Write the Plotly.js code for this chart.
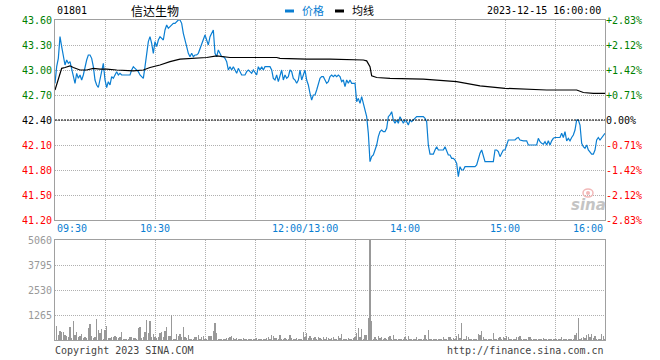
<!DOCTYPE html>
<html><head><meta charset="utf-8">
<script src="https://cdn.plot.ly/plotly-3.0.1.min.js"></script>
<style>html,body{margin:0;padding:0;background:#fff}#chart{width:660px;height:360px}</style>
</head><body><div id="chart"></div>
<script>
const stockCode = "01801";
const stockName = "信达生物";
const stamp = "2023-12-15 16:00:00";
const legendPrice = "价格";
const legendAvg = "均线";
const copyrightText = "Copyright 2023 SINA.COM";
const urlText = "http://finance.sina.com.cn";
const prevClose = 42.40;
const priceTicks = [41.20,41.50,41.80,42.10,42.40,42.70,43.00,43.30,43.60];
const pctLabels = ["-2.83%","-2.12%","-1.42%","-0.71%","0.00%","+0.71%","+1.42%","+2.12%","+2.83%"];
const volTicks = [1265,2530,3795,5060];
const timeLabels = ["09:30","10:30","12:00/13:00","14:00","15:00","16:00"];
const timeMinutes = [0,60,150,210,270,330];

// price per trading minute (0 = 09:30 ... 150 = 12:00/13:00 ... 330 = 16:00)
const price = [
42.84,43.04,43.14,43.40,43.28,43.14,43.06,43.12,43.08,43.10,
43.00,42.90,42.84,42.96,42.90,42.94,42.88,42.94,43.04,43.12,
43.18,43.18,43.14,43.04,42.88,42.82,42.79,42.90,43.02,43.08,
42.88,42.79,42.86,42.82,42.92,42.90,42.94,42.98,42.94,42.96,
42.94,42.94,42.94,42.94,42.94,42.94,43.00,43.04,43.02,43.00,
42.98,42.94,42.92,42.90,43.04,43.20,43.34,43.40,43.32,43.20,
43.34,43.28,43.36,43.40,43.38,43.36,43.48,43.54,43.50,43.52,
43.54,43.56,43.56,43.58,43.60,43.60,43.56,43.44,43.34,43.28,
43.20,43.16,43.20,43.16,43.18,43.18,43.20,43.26,43.32,43.38,
43.42,43.36,43.30,43.40,43.44,43.48,43.20,43.16,43.24,43.20,
43.16,43.16,43.14,43.10,43.00,43.04,43.00,43.04,43.00,42.96,
43.02,42.98,42.94,42.94,42.94,42.98,43.00,42.98,42.96,43.00,
42.96,42.94,43.04,43.00,43.04,43.00,43.04,43.04,43.04,43.04,
43.00,42.90,42.88,42.94,42.86,42.92,43.00,42.88,42.94,42.90,
42.92,43.00,42.98,42.90,42.88,42.84,42.88,43.00,42.88,42.94,
43.00,42.88,42.82,42.72,42.64,42.70,42.70,42.76,42.82,42.90,
42.92,42.92,42.88,42.84,42.86,42.92,42.94,42.92,42.94,42.92,
42.94,42.92,42.86,42.88,42.80,42.88,42.84,42.88,42.84,42.84,
42.84,42.62,42.66,42.60,42.68,42.60,42.50,42.44,42.24,41.90,
41.96,41.98,42.04,42.10,42.20,42.26,42.28,42.26,42.26,42.30,
42.44,42.46,42.50,42.40,42.36,42.40,42.36,42.44,42.40,42.36,
42.40,42.38,42.34,42.40,42.38,42.40,42.42,42.44,42.44,42.44,
42.44,42.44,42.42,42.38,42.10,41.99,41.99,41.99,42.04,42.08,
42.04,42.04,42.04,42.04,42.08,42.02,41.98,41.98,41.94,41.94,
41.92,41.88,41.72,41.84,41.80,41.80,41.84,41.84,41.84,41.84,
41.84,41.84,41.84,41.86,41.94,42.00,42.04,41.98,41.90,41.90,
41.90,41.90,41.90,41.90,42.04,42.04,42.02,41.96,42.00,42.04,
42.04,42.10,42.16,42.16,42.16,42.16,42.16,42.18,42.19,42.16,
42.15,42.15,42.15,42.15,42.10,42.10,42.10,42.10,42.10,42.10,
42.18,42.14,42.12,42.11,42.14,42.10,42.15,42.10,42.15,42.18,
42.19,42.19,42.19,42.19,42.24,42.19,42.26,42.15,42.18,42.15,
42.19,42.22,42.28,42.40,42.40,42.34,42.12,42.08,42.06,42.10,
42.04,42.02,41.99,41.99,42.04,42.16,42.19,42.16,42.19,42.22,42.24
];

// average price line (minute, value)
const avgMinutes = [0,2,4,6,9,11,15,19,23,27,31,37,47,53,57,63,69,75,83,91,97,105,133,135,151,165,185,187,189,190,193,201,221,241,255,270,295,313,317,323,330];
const avgPrice   = [42.76,42.88,43.02,43.03,43.05,43.03,43.00,43.00,43.02,43.01,43.01,43.00,42.99,43.00,43.03,43.06,43.10,43.13,43.14,43.15,43.17,43.15,43.15,43.14,43.13,43.13,43.12,43.11,43.04,42.93,42.91,42.90,42.89,42.86,42.81,42.78,42.76,42.76,42.73,42.72,42.72];

// volume per minute, minutes 1..330
const volume = [
708,253,456,422,422,253,203,169,676,118,
963,253,422,169,203,287,84,169,118,591,
811,203,118,169,1048,507,372,540,50,507,
710,84,84,169,135,203,169,84,169,405,
50,50,68,68,152,152,118,84,68,591,
642,84,135,422,1014,338,963,169,304,169,
84,169,372,422,169,473,642,203,203,1250,
68,68,304,203,304,169,676,169,118,253,
68,68,68,135,169,253,68,169,203,68,
68,203,203,203,456,845,338,68,68,68,
34,68,118,118,169,203,118,68,118,68,
68,34,84,68,68,68,68,68,68,68,
118,34,68,34,68,68,84,169,34,253,
203,84,84,34,253,34,68,84,68,34,
253,84,34,34,84,68,34,34,405,169,
372,84,203,84,84,169,68,169,84,68,169,68,169,
118,68,118,169,68,68,203,84,304,68,
68,68,118,68,68,84,169,372,591,169,
540,68,253,253,1098,5060,963,68,169,68,
203,118,169,68,118,68,169,203,68,253,
68,68,34,68,68,68,169,68,203,68,
68,68,68,135,68,68,68,68,253,68,
507,68,68,68,68,68,68,68,68,135,
68,68,169,169,68,118,68,203,304,118,
845,68,68,203,169,68,68,68,68,68,
287,236,456,169,68,68,68,68,68,338,
68,68,118,169,68,169,118,203,169,68,
68,68,68,135,169,203,68,68,68,68,
169,169,68,68,68,68,68,68,68,118,
68,68,68,68,68,68,68,68,68,68,
135,68,68,68,68,68,68,68,253,372,1098,
68,118,169,118,236,287,169,287,118,203,
68,68,68,287,203,68
];

const GREEN = "#008000", RED = "#ff0000", BLUE = "#0a7ed2", GRAY = "#999999";
const MONO = "DejaVu Sans Mono, monospace";
const CJK = "Noto Sans CJK SC, sans-serif";

function priceColor(v){ return Math.abs(v-prevClose)<1e-9 ? "#000" : (v>prevClose?GREEN:RED); }
const leftText = priceTicks.map(v => '<span style="color:'+priceColor(v)+'">'+v.toFixed(2)+'</span>');
const rightText = pctLabels.map((t,i) => '<span style="color:'+priceColor(priceTicks[i])+'">'+t+'</span>');
const gridMinutes = []; for(let m=0;m<=330;m+=30) gridMinutes.push(m);

const priceX = price.map((_,i)=>i);
const volX = volume.map((_,i)=>i+1);

const traces = [
  {x: priceX, y: price, type:'scatter', mode:'lines', line:{color:BLUE, width:1.2}, xaxis:'x', yaxis:'y'},
  {x: avgMinutes, y: avgPrice, type:'scatter', mode:'lines', line:{color:'#000', width:1.2}, xaxis:'x', yaxis:'y'},
  {x: priceX, y: price, type:'scatter', mode:'lines', line:{width:0}, opacity:0, xaxis:'x', yaxis:'y3', hoverinfo:'skip'},
  {x: volX, y: volume, type:'bar', marker:{color:GRAY, line:{width:0}}, width:0.7, xaxis:'x2', yaxis:'y2'}
];

const gridCommon = {showgrid:true, gridcolor:'#b0b0b0', griddash:'1px,1px', gridwidth:1, zeroline:false,
  showline:true, linecolor:'#a0a0a0', linewidth:1, mirror:true, ticks:'', fixedrange:true};

const annotations = [];
timeLabels.forEach((t,i)=>{
  const m = timeMinutes[i];
  annotations.push({x:m, xref:'x', y:0.375, yref:'paper', yanchor:'top', yshift:-1,
    xanchor: m===0?'left':(m===330?'right':'center'), text:t, showarrow:false,
    font:{family:MONO, size:10, color:BLUE}});
});
function px(p){ return (p-55)/550; }
function py(p){ return (340-p)/320; }
const hy = 1, hs = 10;
annotations.push({x:px(55), xref:'paper', y:hy, yref:'paper', yshift:hs, xanchor:'left', yanchor:'middle', text:stockCode, showarrow:false, font:{family:MONO,size:10,color:'#000'}});
annotations.push({x:px(129), xref:'paper', y:hy, yref:'paper', yshift:hs, xanchor:'left', yanchor:'middle', text:stockName, showarrow:false, font:{family:CJK,size:12,color:'#000'}});
annotations.push({x:px(300), xref:'paper', y:hy, yref:'paper', yshift:hs, xanchor:'left', yanchor:'middle', text:legendPrice, showarrow:false, font:{family:CJK,size:11,color:BLUE}});
annotations.push({x:px(350), xref:'paper', y:hy, yref:'paper', yshift:hs, xanchor:'left', yanchor:'middle', text:legendAvg, showarrow:false, font:{family:CJK,size:11,color:'#000'}});
annotations.push({x:px(603), xref:'paper', y:hy, yref:'paper', yshift:hs, xanchor:'right', yanchor:'middle', text:stamp, showarrow:false, font:{family:MONO,size:10,color:'#000'}});
annotations.push({x:px(53), xref:'paper', y:0, yref:'paper', yshift:-10, xanchor:'left', yanchor:'middle', text:copyrightText, showarrow:false, font:{family:MONO,size:10,color:'#444'}});
annotations.push({x:px(606), xref:'paper', y:0, yref:'paper', yshift:-10, xanchor:'right', yanchor:'middle', text:urlText, showarrow:false, font:{family:MONO,size:10,color:'#444'}});
annotations.push({x:px(588), xref:'paper', y:py(205), yref:'paper', xanchor:'center', yanchor:'middle', text:'sina', showarrow:false, font:{family:'DejaVu Sans',size:15,color:'#c4c4c4', weight:700, style:'italic'}});

const shapes = [
  {type:'line', xref:'x', yref:'y', x0:0, x1:330, y0:prevClose, y1:prevClose, line:{color:'#000', width:1, dash:'2px,1px'}},
  {type:'line', xref:'paper', yref:'paper', x0:px(285), x1:px(294), y0:py(11), y1:py(11), line:{color:BLUE, width:3}},
  {type:'line', xref:'paper', yref:'paper', x0:px(335), x1:px(344), y0:py(11), y1:py(11), line:{color:'#000', width:3}},
  {type:'circle', xref:'paper', yref:'paper', x0:px(583), x1:px(593), y0:py(197), y1:py(189), line:{color:'#f2b8b8', width:1.5}, fillcolor:'rgba(0,0,0,0)'},
  {type:'circle', xref:'paper', yref:'paper', x0:px(586), x1:px(590), y0:py(195), y1:py(191), line:{width:0}, fillcolor:'#f2b8b8'}
];

const layout = {
  width:660, height:360, margin:{l:55, r:55, t:20, b:20, pad:0},
  paper_bgcolor:'#fff', plot_bgcolor:'#fff', showlegend:false, hovermode:false,
  xaxis: Object.assign({}, gridCommon, {domain:[0,1], anchor:'y', range:[0,330], tickvals:gridMinutes, showticklabels:false}),
  yaxis: Object.assign({}, gridCommon, {domain:[0.375,1], anchor:'x', range:[41.2,43.6], tickvals:priceTicks, ticktext:leftText,
    tickfont:{family:MONO, size:10}}),
  yaxis3: {overlaying:'y', side:'right', anchor:'x', range:[41.2,43.6], tickvals:priceTicks, ticktext:rightText,
    showgrid:false, zeroline:false, showline:false, ticks:'', tickfont:{family:MONO,size:10}, fixedrange:true},
  xaxis2: Object.assign({}, gridCommon, {domain:[0,1], anchor:'y2', range:[0,330], tickvals:gridMinutes, showticklabels:false}),
  yaxis2: Object.assign({}, gridCommon, {domain:[0,0.3125], anchor:'x2', range:[0,5060], tickvals:volTicks, ticktext:volTicks.map(String),
    tickfont:{family:MONO, size:10, color:GRAY}}),
  annotations: annotations, shapes: shapes, bargap:0
};

Plotly.newPlot('chart', traces, layout, {staticPlot:true, displayModeBar:false});
</script></body></html>
